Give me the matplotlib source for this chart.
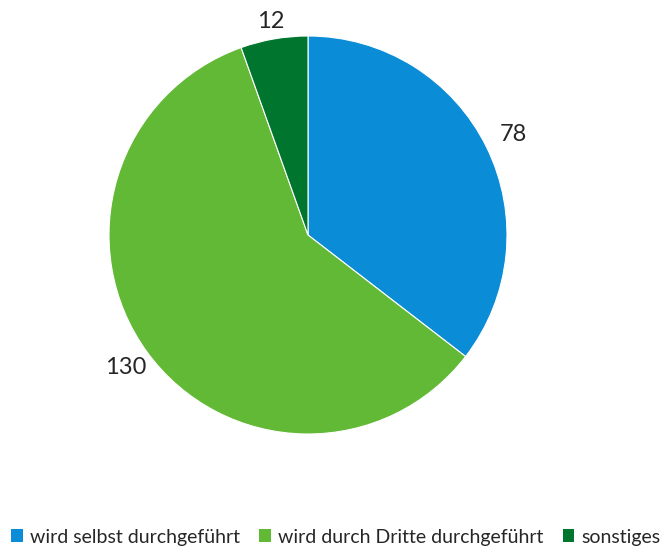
import numpy as np
import matplotlib.pyplot as plt
from matplotlib.patches import Patch

plt.rcParams['font.family'] = ['Lato', 'DejaVu Sans']

# Values and labels
categories = ["wird selbst durchgeführt", "wird durch Dritte durchgeführt", "sonstiges"]
values = [78, 130, 12]
colors = ["#0b8cd6", "#62b936", "#00752d"]
label_dist = [1.15, 1.13, 1.09]

fig = plt.figure(figsize=(6.65, 5.51), dpi=100)
ax = fig.add_axes([109 / 665, 117 / 551, 398 / 665, 398 / 551])

wedges, _ = ax.pie(values, colors=colors, startangle=90, counterclock=False,
                   wedgeprops=dict(edgecolor="white", linewidth=0.8))

# value labels outside each wedge
for w, v, d in zip(wedges, values, label_dist):
    ang = np.deg2rad((w.theta1 + w.theta2) / 2)
    ax.text(d * np.cos(ang), d * np.sin(ang), str(v), ha="center", va="center",
            fontsize=17, color="#262626")

ax.set_xlim(-1, 1)
ax.set_ylim(-1, 1)
ax.set_aspect("equal")
ax.axis("off")

handles = [Patch(facecolor=c, edgecolor="none") for c in colors]
fig.legend(handles, categories, loc="center", bbox_to_anchor=(0.505, 1 - 537 / 551),
           ncol=3, frameon=False, fontsize=14, handlelength=0.6, handleheight=0.6,
           handletextpad=0.35, columnspacing=1.0, labelcolor="#262626")

fig.savefig("out.png", dpi=100)
